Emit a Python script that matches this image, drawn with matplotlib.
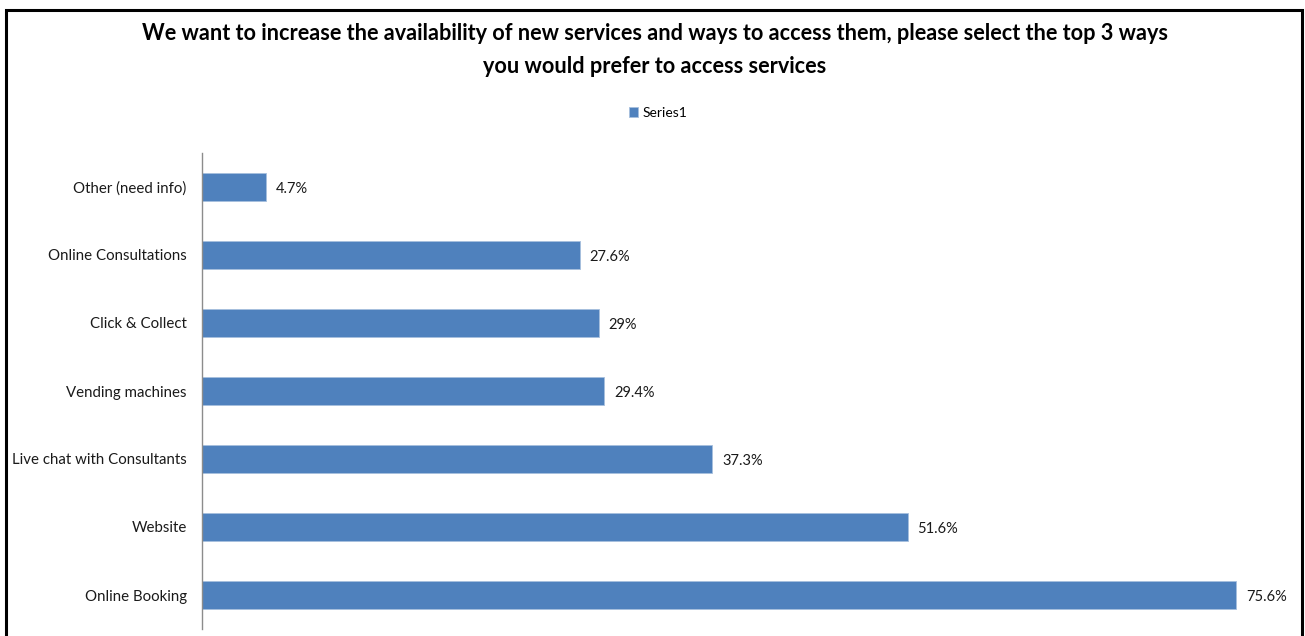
import matplotlib.pyplot as plt
from matplotlib.patches import Rectangle

plt.rcParams['font.family'] = ['Lato', 'DejaVu Sans']

# survey answers, bottom to top as drawn
ways = ['Online Booking', 'Website', 'Live chat with Consultants',
        'Vending machines', 'Click & Collect', 'Online Consultations',
        'Other (need info)']
share = [75.6, 51.6, 37.3, 29.4, 29.0, 27.6, 4.7]
value_labels = ['75.6%', '51.6%', '37.3%', '29.4%', '29%', '27.6%', '4.7%']

W, H = 1305, 636
fig = plt.figure(figsize=(W / 100, H / 100), dpi=100)

# outer chart frame
fig.patches.append(Rectangle((6 / W, -0.05), (1302 - 6) / W, 1.05 - 10 / H,
                             transform=fig.transFigure, fill=False,
                             edgecolor='black', linewidth=2.2))

ax = fig.add_axes([202 / W, 1 - 629 / H, (80 * 13.68) / W, (629 - 153) / H])
bars = ax.barh(range(len(ways)), share, height=0.41, color='#4f81bd',
               edgecolor='#a7bfde', linewidth=0.6, label='Series1')
ax.set_xlim(0, 80)
ax.set_ylim(-0.5, len(ways) - 0.5)
ax.set_yticks(range(len(ways)))
ax.set_yticklabels(ways, fontsize=10.8, color='#1a1a1a')
ax.tick_params(axis='y', length=0, pad=11)
ax.set_xticks([])
for s in ['top', 'right', 'bottom']:
    ax.spines[s].set_visible(False)
ax.spines['left'].set_color('#8c8c8c')
ax.spines['left'].set_linewidth(1)

for b, lab in zip(bars, value_labels):
    ax.annotate(lab, (b.get_width(), b.get_y() + b.get_height() / 2),
                xytext=(7, -1.5), textcoords='offset points', va='center',
                ha='left', fontsize=10.5, color='#1a1a1a')

fig.text(655 / W, 1 - 50 / H,
         'We want to increase the availability of new services and ways to access them, please select the top 3 ways\nyou would prefer to access services',
         ha='center', va='center', fontsize=15.6, fontweight='bold',
         linespacing=1.75)

fig.legend(handles=[bars], labels=['Series1'], loc='center',
           bbox_to_anchor=(658 / W, 1 - 113 / H), frameon=False,
           fontsize=10, handlelength=0.7, handleheight=0.7,
           handletextpad=0.3)

fig.savefig('out.png', dpi=100)
